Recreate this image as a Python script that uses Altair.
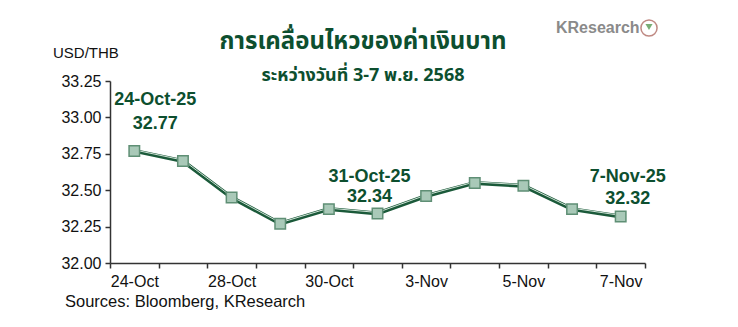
import altair as alt
import pandas as pd

dates = ["24-Oct", "27-Oct", "28-Oct", "29-Oct", "30-Oct", "31-Oct",
         "3-Nov", "4-Nov", "5-Nov", "6-Nov", "7-Nov"]
rates = [32.77, 32.70, 32.45, 32.27, 32.37, 32.34, 32.46, 32.55, 32.53, 32.37, 32.32]
shown_labels = ["24-Oct", "28-Oct", "30-Oct", "3-Nov", "5-Nov", "7-Nov"]
y_ticks = [32.00, 32.25, 32.50, 32.75, 33.00, 33.25]

ann_dates = ["24-Oct", "31-Oct", "7-Nov"]
ann_titles = ["24-Oct-25", "31-Oct-25", "7-Nov-25"]
ann_values = ["32.77", "32.34", "32.32"]
ann_dx = [21, -8, 7]          # style: horizontal nudge of each annotation
ann_dy_top = [-51, -36, -39]  # style: vertical nudge of first line
ann_dy_bot = [-27, -16, -17]  # style: vertical nudge of second line

title_text = "การเคลื่อนไหวของค่าเงินบาท"
subtitle_text = "ระหว่างวันที่ 3-7 พ.ย. 2568"
unit_text = "USD/THB"
source_text = "Sources: Bloomberg, KResearch"
brand_text = "KResearch"

df = pd.DataFrame({"date": dates, "rate": rates})
ann = pd.DataFrame({"date": ann_dates, "t1": ann_titles, "t2": ann_values,
                    "rate": [rates[dates.index(d)] for d in ann_dates]})

GREEN = "#0d4f2f"
LINE = "#1b5a3a"
FONT = "Liberation Sans"
THAI = "Noto Sans Thai, Tahoma, Loma, Garuda, Liberation Sans, sans-serif"

label_expr = "indexof(" + str(shown_labels) + ", datum.value) >= 0 ? datum.value : ''"

x = alt.X("date:N", sort=dates, title=None,
          scale=alt.Scale(paddingInner=0, paddingOuter=0),
          axis=alt.Axis(labelAngle=0, labelExpr=label_expr, tickBand="extent",
                        domainColor="#333333", domainWidth=1.5, tickColor="#333333",
                        tickWidth=1.5, tickSize=5, labelFont=FONT, labelFontSize=16,
                        labelColor="#111111", labelPadding=5, grid=False))
y = alt.Y("rate:Q", title=None,
          scale=alt.Scale(domain=[32.0, 33.25], nice=False, zero=False),
          axis=alt.Axis(values=y_ticks, format=".2f", domainColor="#333333",
                        domainWidth=1.5, tickColor="#333333", tickWidth=1.5, tickSize=5,
                        labelFont=FONT, labelFontSize=16, labelColor="#111111",
                        labelPadding=4, grid=False))

base = alt.Chart(df)
line_dark = base.mark_line(color=LINE, strokeWidth=4).encode(x=x, y=y)
line_light = base.mark_line(color="#cfe2d6", strokeWidth=1, yOffset=-1).encode(x=x, y=y)
points = base.mark_point(shape="square", filled=True, fill="#a9c9b8", stroke="#5f8f75",
                         strokeWidth=1.5, size=110, opacity=1).encode(x=x, y=y)

ann_layers = []
for i in range(len(ann_dates)):
    sub = alt.Chart(ann.iloc[[i]])
    ann_layers.append(sub.mark_text(font=FONT, fontSize=18, fontWeight="bold", color=GREEN,
                                    dx=ann_dx[i], dy=ann_dy_top[i]).encode(x=x, y=y, text="t1:N"))
    ann_layers.append(sub.mark_text(font=FONT, fontSize=18, fontWeight="bold", color=GREEN,
                                    dx=ann_dx[i], dy=ann_dy_bot[i]).encode(x=x, y=y, text="t2:N"))

def label(text, **kw):
    return alt.Chart(pd.DataFrame({"t": [text]})).mark_text(**kw).encode(text="t:N")

title = label(title_text, font=THAI, fontSize=24, fontWeight="bold", color=GREEN,
              align="center", baseline="middle").encode(x=alt.value(253), y=alt.value(-39))
subtitle = label(subtitle_text, font=THAI, fontSize=18, fontWeight="bold", color=GREEN,
                 align="center", baseline="middle").encode(x=alt.value(253), y=alt.value(-5))
unit = label(unit_text, font=FONT, fontSize=15, color="#111111", align="left",
             baseline="middle").encode(x=alt.value(-57), y=alt.value(-28))
source = label(source_text, font=FONT, fontSize=16.5, color="#111111", align="left",
               baseline="middle").encode(x=alt.value(-45), y=alt.value(221))
brand = label(brand_text, font=FONT, fontSize=16, fontWeight="bold", color="#8a8a8a",
              align="left", baseline="middle").encode(x=alt.value(446), y=alt.value(-53))
logo = alt.Chart(pd.DataFrame({"t": [brand_text]})).mark_point(
    shape="circle", size=260, stroke="#a5584f", strokeWidth=1.5, filled=False
).encode(x=alt.value(539), y=alt.value(-53))
sprout = alt.Chart(pd.DataFrame({"t": [brand_text]})).mark_point(
    shape="triangle-down", size=50, fill="#3f8a3a", filled=True, stroke=None
).encode(x=alt.value(539), y=alt.value(-54))

chart = alt.layer(line_dark, line_light, points, *ann_layers, title, subtitle, unit,
                  source, brand, logo, sprout).properties(
    width=535, height=182, autosize=alt.AutoSizeParams(type="none"),
    padding={"left": 110, "top": 81, "right": 93, "bottom": 64},
    background="white"
).configure_view(stroke=None)

chart.save("out.html", embed_options={"renderer": "svg", "actions": False})
